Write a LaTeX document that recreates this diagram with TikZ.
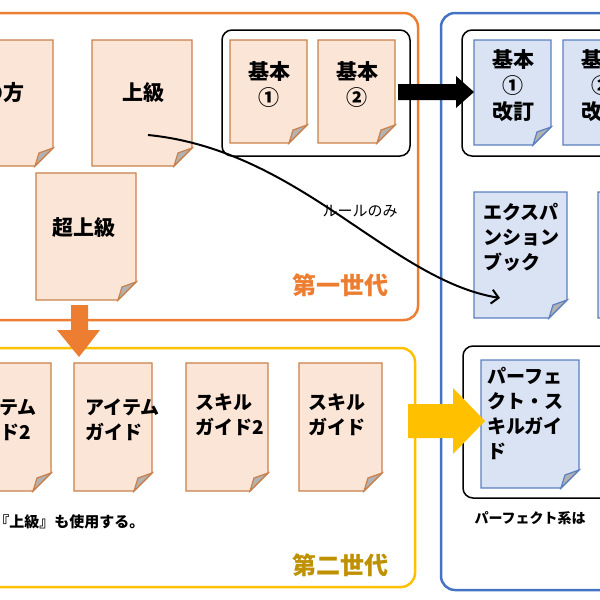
\documentclass[tikz,border=0pt]{standalone}
\usepackage{fontspec}
\setmainfont{Noto Sans CJK JP}
\usetikzlibrary{arrows.meta}
\definecolor{gen1}{HTML}{ED7D31}
\definecolor{gen2}{HTML}{FFC000}
\definecolor{gen2text}{HTML}{BF9000}
\definecolor{gen3}{HTML}{4472C4}
\definecolor{oldfill}{HTML}{FBE5D6}
\definecolor{oldline}{HTML}{C9804A}
\definecolor{newfill}{HTML}{DAE3F3}
\definecolor{newline}{HTML}{5B80C0}
% paper sheet with folded corner: #1 style, #2 name, #3/#4 top left, #5/#6 bottom right
\newcommand{\paper}[6]{%
  \draw[#1] (#3,#4) -- (#5,#4) -- (#5,#6-18) -- (#5-18,#6) -- (#3,#6) -- cycle;
  \filldraw[#1,fill=gray!60] (#5,#6-18) -- (#5-18,#6) -- (#5-14,#6-13) -- cycle;
  \coordinate (#2) at ({(#3+#5)/2},{(#4+#6)/2});
  \coordinate (#2-nw) at (#3,#4);
}
\begin{document}
\begin{tikzpicture}[x=1pt, y=-1pt, font=\bfseries,
    old/.style = {draw=oldline, fill=oldfill, line width=1.2pt},
    new/.style = {draw=newline, fill=newfill, line width=1.2pt},
    frame/.style = {rounded corners=14pt, line width=2.5pt},
    group/.style = {draw, rounded corners=10pt, line width=1.5pt},
    label/.style = {font=\bfseries\fontsize{21}{26}\selectfont, align=center},
    tl/.style = {font=\bfseries\fontsize{19}{25}\selectfont, align=left, anchor=north west},
    gen/.style = {font=\bfseries\fontsize{24}{28}\selectfont}]
\useasboundingbox (0,0) rectangle (600,600);
\clip (0,0) rectangle (600,600);

% frames
\draw[frame, gen1] (-20,13) rectangle (418,320);
\draw[frame, gen2] (-20,348) rectangle (415,587);
\draw[frame, gen3] (441,13) rectangle (640,590);

% first generation
\paper{old}{way}{-10}{40}{53}{166}
\node[label, anchor=east] at (28,93) {の方};
\paper{old}{adv}{92}{40}{192}{166}
\node[label] (advt) at (143,93) {上級};
\paper{old}{sadv}{36}{173}{136}{300}
\node[label] at (84,228) {超上級};
\draw[group] (222,30) rectangle (410,156);
\paper{old}{b1}{230}{40}{307}{143}
\node[label] at (269,85) {基本\\①};
\paper{old}{b2}{318}{40}{395}{143}
\node[label] at (357,85) {基本\\②};
\node[gen, text=gen1] at (340,285) {第一世代};

% third group
\draw[group] (462,30) rectangle (640,156);
\paper{new}{r1}{474}{40}{551}{145}
\node[label] at (513,86) {基本\\①\\改訂};
\paper{new}{r2}{563}{40}{640}{145}
\node[label] at (602,86) {基本\\②\\改訂};
\paper{new}{exp}{474}{192}{567}{318}
\node[tl] at (480,200) {エクスパ\\ンション\\ブック};
\paper{new}{exp2}{598}{192}{660}{318}
\draw[group] (463,346) rectangle (640,498);
\paper{new}{pf}{481}{360}{579}{488}
\node[tl] at (484,364) {パーフェ\\クト・ス\\キルガイ\\ド};
\node[anchor=west, font=\bfseries\fontsize{14}{16}\selectfont] at (471,518) {パーフェクト系は};

% second generation
\paper{old}{ig2}{-10}{363}{51}{491}
\node[tl, anchor=north east] at (40,395) {アイテム\\ガイド2};
\paper{old}{ig}{74}{363}{152}{491}
\node[tl] at (82,395) {アイテム\\ガイド};
\paper{old}{sg2}{186}{363}{268}{491}
\node[tl] at (192,390) {スキル\\ガイド2};
\paper{old}{sg}{299}{363}{382}{491}
\node[tl] at (305,390) {スキル\\ガイド};
\node[anchor=east, font=\bfseries\fontsize{15}{17}\selectfont] at (148,522) {『上級』も使用する。};
\node[gen, text=gen2text] at (340,565) {第二世代};

% block arrows
\fill (398,84) -- (456,84) -- (456,76) -- (474,92) -- (456,108) -- (456,100) -- (398,100) -- cycle;
\fill[gen1] (71,305) -- (88,305) -- (88,330) -- (100,330) -- (79,357) -- (57,330) -- (71,330) -- cycle;
\fill[gen2] (408,404) -- (453,404) -- (453,388) -- (485,421) -- (453,454) -- (453,438) -- (408,438) -- cycle;

% rule link
\coordinate (rs) at (148,135);
\coordinate (re) at (500,298);
\draw[line width=2pt, -{Straight Barb[length=7pt]}] (rs) .. controls (300,150) and (390,280) .. (re);
\node[font=\fontsize{15}{17}\selectfont] at (360,211) {ルールのみ};
\end{tikzpicture}
\end{document}
